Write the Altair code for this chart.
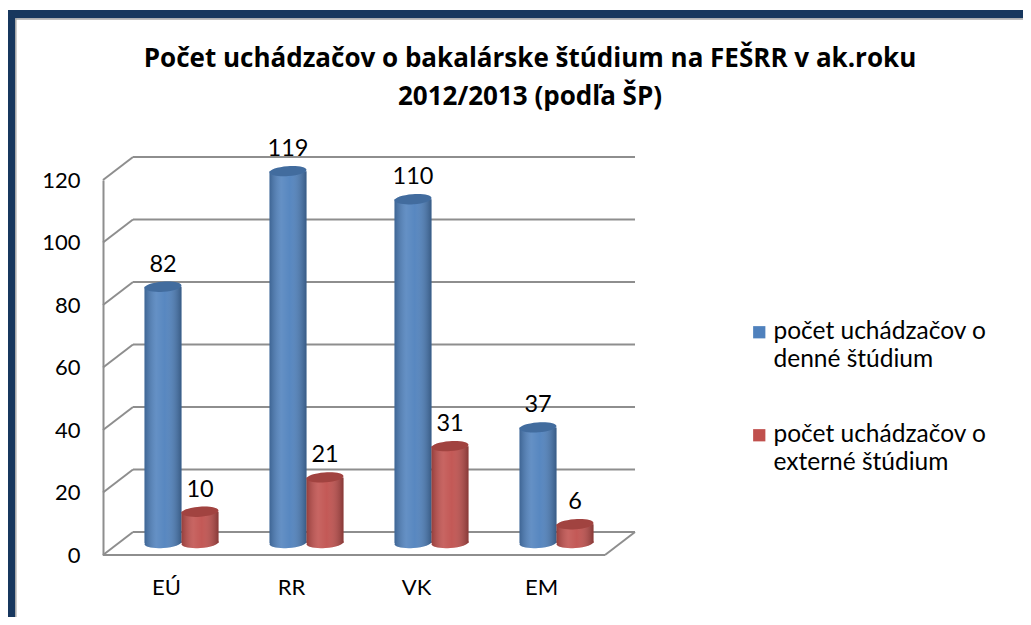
import altair as alt
import pandas as pd

# ---- data ----
categories = ["EÚ", "RR", "VK", "EM"]
series = ["počet uchádzačov o denné štúdium", "počet uchádzačov o externé štúdium"]
denne = [82, 119, 110, 37]
externe = [10, 21, 31, 6]
y_ticks = [0, 20, 40, 60, 80, 100, 120]
title_lines = ["Počet uchádzačov o bakalárske štúdium na FEŠRR v ak.roku",
               "2012/2013 (podľa ŠP)"]
colors = ["#4F81BD", "#C0504D"]

rows = []
for c, d, e in zip(categories, denne, externe):
    rows.append({"kat": c, "seria": series[0], "hodnota": d})
    rows.append({"kat": c, "seria": series[1], "hodnota": e})
df = pd.DataFrame(rows)
ticks_df = pd.DataFrame({"t": y_ticks})
floor_df = pd.DataFrame({"t": [0]})

# ---- styling ----
W, H = 532, 375
DX, DY = 30, 23          # depth of the 3D box
BDY = -12                # cylinders sit at mid-depth
GRID = "#8E8E8E"
FONT = "Lato"
BAR_W = 37
r = 0.27
k = 0.5523
ELLIPSE = (f"M -1 0 C -1 {-k*r:.4f} {-k:.4f} {-r} 0 {-r} C {k:.4f} {-r} 1 {-k*r:.4f} 1 0 "
           f"C 1 {k*r:.4f} {k:.4f} {r} 0 {r} C {-k:.4f} {r} -1 {k*r:.4f} -1 0 Z")

shade = alt.Gradient(
    gradient="linear", x1=0, x2=1, y1=0, y2=0,
    stops=[
        alt.GradientStop(color="rgba(0,0,0,0.22)", offset=0),
        alt.GradientStop(color="rgba(255,255,255,0.12)", offset=0.32),
        alt.GradientStop(color="rgba(255,255,255,0.05)", offset=0.55),
        alt.GradientStop(color="rgba(0,0,0,0.30)", offset=1),
    ],
)

x_enc = alt.X("kat:N", sort=categories,
              scale=alt.Scale(paddingInner=0.408, paddingOuter=0.332),
              axis=alt.Axis(title=None, domain=False, ticks=False, labelFont=FONT,
                            labelFontSize=22, labelColor="#000", labelPadding=37,
                            translate=-14.5, labelAngle=0))
xo_enc = alt.XOffset("seria:N", sort=series)
y_axis = alt.Axis(values=y_ticks, title=None, grid=False, ticks=False, tickSize=0,
                  domainColor=GRID, domainWidth=2, labelFont=FONT,
                  labelFontSize=22, labelPadding=23, labelColor="#000")
y_scale = alt.Scale(domain=[0, 120], nice=False)
color_enc = alt.Color("seria:N", sort=series,
                      scale=alt.Scale(domain=series, range=colors),
                      legend=alt.Legend(title=None, orient="none", legendX=644, legendY=140,
                                        symbolType="square", symbolSize=150,
                                        symbolStrokeWidth=0, symbolOpacity=1,
                                        labelFont=FONT, labelFontSize=24.5, labelColor="#000",
                                        labelOffset=2, labelLimit=400, rowPadding=50,
                                        padding=0, labelBaseline="middle",
                                        labelExpr="[slice(datum.label, 0, 18), slice(datum.label, 19)]"))

def Y(field):
    return alt.Y(field, scale=y_scale, axis=y_axis)

# 3D box lines
back_grid = alt.Chart(ticks_df).mark_rule(color=GRID, strokeWidth=2, yOffset=-DY).encode(
    y=Y("t:Q"), x=alt.value(DX), x2=alt.value(W))
diag = alt.Chart(ticks_df).mark_rule(color=GRID, strokeWidth=2, y2Offset=-DY).encode(
    y=Y("t:Q"), y2=alt.Y2("t"), x=alt.value(0), x2=alt.value(DX))
floor_front = alt.Chart(floor_df).mark_rule(color=GRID, strokeWidth=2).encode(
    y=Y("t:Q"), x=alt.value(0), x2=alt.value(W - DX))
floor_right = alt.Chart(floor_df).mark_rule(color=GRID, strokeWidth=2, y2Offset=-DY).encode(
    y=Y("t:Q"), y2=alt.Y2("t"), x=alt.value(W - DX), x2=alt.value(W))

base = alt.Chart(df).encode(x=x_enc, xOffset=xo_enc)

bottom_el = base.transform_calculate(z="0").mark_point(
    shape=ELLIPSE, size=BAR_W * BAR_W, filled=True, opacity=1, strokeWidth=0,
    yOffset=BDY, angle=356).encode(y=Y("z:Q"), color=color_enc)
bottom_sh = base.transform_calculate(z="0").mark_point(
    shape=ELLIPSE, size=BAR_W * BAR_W, filled=True, opacity=1, strokeWidth=0,
    yOffset=BDY, angle=356, fill=shade).encode(y=Y("z:Q"))
bars = base.mark_bar(yOffset=BDY, y2Offset=BDY, strokeWidth=0).encode(
    y=Y("hodnota:Q"), color=color_enc)
bars_sh = base.mark_bar(yOffset=BDY, y2Offset=BDY, strokeWidth=0, fill=shade).encode(
    y=Y("hodnota:Q"))
top_el = base.mark_point(
    shape=ELLIPSE, size=BAR_W * BAR_W, filled=True, opacity=1, strokeWidth=0,
    yOffset=BDY, angle=356).encode(y=Y("hodnota:Q"), color=color_enc)
top_sh = base.mark_point(
    shape=ELLIPSE, size=BAR_W * BAR_W, filled=True, opacity=0.16, strokeWidth=0,
    yOffset=BDY, angle=356, color="#000").encode(y=Y("hodnota:Q"))
labels = base.mark_text(font=FONT, fontSize=23.5, color="#000", baseline="alphabetic",
                        xOffset=-7, yOffset=BDY - 15).encode(y=Y("hodnota:Q"), text="hodnota:Q")

# document frame (decorative)
frame_left = alt.Chart(floor_df).mark_rule(color="#17375E", strokeWidth=7).encode(
    x=alt.value(-91.5), y=alt.value(-170), y2=alt.value(440))
frame_left_in = alt.Chart(floor_df).mark_rule(color="#A6A6A6", strokeWidth=1.5).encode(
    x=alt.value(-87.2), y=alt.value(-161.7), y2=alt.value(440))
frame_top = alt.Chart(floor_df).mark_rule(color="#17375E", strokeWidth=8.3).encode(
    y=alt.value(-165.85), x=alt.value(-95), x2=alt.value(W + 388))
frame_top_in = alt.Chart(floor_df).mark_rule(color="#A6A6A6", strokeWidth=1.5).encode(
    y=alt.value(-161), x=alt.value(-87.2), x2=alt.value(W + 388))

chart = alt.layer(
    back_grid, diag, floor_front, floor_right,
    bottom_el, bottom_sh, bars, bars_sh, top_el, top_sh, labels,
    frame_left, frame_left_in, frame_top, frame_top_in,
).properties(
    width=W, height=H,
    padding={"left": 95, "top": 172, "right": 388, "bottom": 62},
    autosize=alt.AutoSizeParams(type="none"),
    title=alt.TitleParams(text=title_lines, font="Open Sans", fontSize=26, fontWeight="bold",
                          color="#000", anchor="middle", frame="group", dx=161,
                          baseline="alphabetic", lineHeight=38, offset=-124.5),
).configure(
    background="white",
    style={"guide-label": {"lineHeight": 28}},
).configure_view(stroke="transparent")

chart.save("out.html", embed_options={"renderer": "svg", "actions": False})
